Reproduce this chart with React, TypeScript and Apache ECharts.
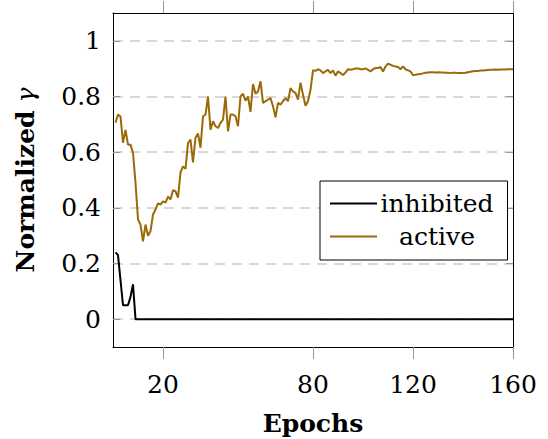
import React, { useEffect, useRef } from "react";
import * as echarts from "echarts";

const FONT = "DejaVu Serif";

const X_TICKS = [20, 80, 120, 160];
const Y_TICKS = [0, 0.2, 0.4, 0.6, 0.8, 1];

const SERIES_NAMES = ["inhibited", "active"];

// inhibited: [epoch, value]
const INHIBITED: [number, number][] = [
  [1, 0.24], [2, 0.23], [3, 0.14], [4, 0.05], [5, 0.05], [6, 0.05],
  [7, 0.08], [8, 0.125], [9, 0], [160, 0],
];

// active: one value per epoch, epochs 1..160
const ACTIVE = [
  0.706, 0.735, 0.728, 0.634, 0.68, 0.627, 0.627, 0.598, 0.49, 0.358,
  0.34, 0.28, 0.34, 0.3, 0.316, 0.376, 0.394, 0.416, 0.412, 0.423,
  0.419, 0.44, 0.43, 0.463, 0.46, 0.437, 0.527, 0.549, 0.54, 0.632,
  0.645, 0.563, 0.652, 0.667, 0.616, 0.729, 0.735, 0.8, 0.681, 0.711,
  0.693, 0.687, 0.705, 0.717, 0.8, 0.675, 0.735, 0.735, 0.729, 0.693,
  0.8, 0.81, 0.785, 0.8, 0.745, 0.845, 0.81, 0.818, 0.855, 0.777,
  0.783, 0.789, 0.794, 0.765, 0.725, 0.777, 0.771, 0.783, 0.794, 0.783,
  0.83, 0.818, 0.813, 0.789, 0.85, 0.806, 0.767, 0.783, 0.824, 0.894,
  0.892, 0.898, 0.894, 0.884, 0.89, 0.896, 0.884, 0.894, 0.875, 0.89,
  0.884, 0.877, 0.886, 0.898, 0.896, 0.898, 0.901, 0.901, 0.898, 0.898,
  0.901, 0.896, 0.89, 0.898, 0.902, 0.902, 0.906, 0.89, 0.908, 0.918,
  0.914, 0.91, 0.908, 0.906, 0.898, 0.908, 0.898, 0.894, 0.89, 0.877,
  0.878, 0.88, 0.881, 0.883, 0.885, 0.886, 0.887, 0.887, 0.886, 0.887,
  0.886, 0.886, 0.885, 0.885, 0.884, 0.885, 0.885, 0.884, 0.884, 0.884,
  0.885, 0.887, 0.889, 0.891, 0.892, 0.892, 0.893, 0.893, 0.894, 0.895,
  0.896, 0.896, 0.897, 0.896, 0.897, 0.897, 0.897, 0.898, 0.898, 0.898,
];

const ACTIVE_COLOR = "#9a6a06";

function fmtY(v: number): string {
  const r = Math.round(v * 10) / 10;
  return String(r);
}

export default function App() {
  const ref = useRef<HTMLDivElement>(null);
  useEffect(() => {
    if (!ref.current) return;
    const chart = echarts.init(ref.current, undefined, { renderer: "svg" });
    const activeData = ACTIVE.map((v, i) => [i + 1, v]);
    const tickLine = { color: "#999", width: 1 };
    chart.setOption({
      animation: false,
      backgroundColor: "#fff",
      grid: { left: 113, right: 35, top: 13, bottom: 92, containLabel: false, outerBoundsMode: "none" },
      legend: {
        orient: "vertical",
        left: 320,
        top: 181,
        data: SERIES_NAMES,
        icon: "rect",
        itemWidth: 47,
        itemHeight: 2,
        itemGap: 8,
        padding: [10, 14, 11, 10],
        borderColor: "#000",
        borderWidth: 1,
        borderRadius: 0,
        backgroundColor: "#fff",
        formatter: "{a|{name}}",
        textStyle: {
          fontFamily: FONT,
          fontSize: 25,
          color: "#000",
          rich: {
            a: { width: 110, align: "center", fontFamily: FONT, fontSize: 25, lineHeight: 28, color: "#000" },
          },
        },
      },
      xAxis: [
        {
          type: "value",
          min: 0,
          max: 160,
          position: "bottom",
          name: "Epochs",
          nameLocation: "middle",
          nameGap: 64,
          nameTextStyle: { fontFamily: FONT, fontSize: 25, fontWeight: "bold", color: "#000" },
          axisLine: { show: true, onZero: false, lineStyle: { color: "#000", width: 1 } },
          axisTick: { show: true, customValues: X_TICKS, length: 12, lineStyle: tickLine },
          axisLabel: { customValues: X_TICKS, fontFamily: FONT, fontSize: 25, color: "#000", margin: 25 },
          splitLine: { show: false },
        },
        {
          type: "value",
          min: 0,
          max: 160,
          position: "top",
          axisLine: { show: true, onZero: false, lineStyle: { color: "#000", width: 1 } },
          axisTick: { show: true, customValues: X_TICKS, length: 12, lineStyle: tickLine },
          axisLabel: { show: false },
          splitLine: { show: false },
        },
      ],
      yAxis: [
        {
          type: "value",
          min: -0.1,
          max: 1.1,
          position: "left",
          name: "{b|Normalized} {g|γ}",
          nameLocation: "middle",
          nameGap: 75,
          nameRotate: 90,
          nameTextStyle: {
            fontFamily: FONT,
            fontSize: 25,
            color: "#000",
            rich: {
              b: { fontFamily: FONT, fontSize: 25, fontWeight: "bold", color: "#000" },
              g: { fontFamily: FONT, fontSize: 25, fontStyle: "italic", color: "#000" },
            },
          },
          axisLine: { show: true, onZero: false, lineStyle: { color: "#000", width: 1 } },
          axisTick: { show: true, inside: true, customValues: Y_TICKS, length: 7, lineStyle: tickLine },
          axisLabel: {
            customValues: Y_TICKS,
            formatter: (v: number) => fmtY(v),
            fontFamily: FONT,
            fontSize: 25,
            color: "#000",
            margin: 12,
          },
          splitLine: { show: true, lineStyle: { color: "#cccccc", width: 1.5, type: [10, 7] } },
        },
        {
          type: "value",
          min: -0.1,
          max: 1.1,
          position: "right",
          axisLine: { show: true, onZero: false, lineStyle: { color: "#000", width: 1 } },
          axisTick: { show: true, inside: true, customValues: Y_TICKS, length: 7, lineStyle: tickLine },
          axisLabel: { show: false },
          splitLine: { show: false },
        },
      ],
      series: [
        {
          name: SERIES_NAMES[0],
          type: "line",
          xAxisIndex: 0,
          yAxisIndex: 0,
          data: INHIBITED,
          symbol: "none",
          color: "#000",
          lineStyle: { color: "#000", width: 2 },
          z: 3,
        },
        {
          name: SERIES_NAMES[1],
          type: "line",
          xAxisIndex: 0,
          yAxisIndex: 0,
          data: activeData,
          symbol: "none",
          color: ACTIVE_COLOR,
          lineStyle: { color: ACTIVE_COLOR, width: 2 },
          z: 3,
        },
      ],
    });
    return () => chart.dispose();
  }, []);
  return (
    <div
      ref={ref}
      style={{ position: "fixed", left: 0, top: 0, width: 548, height: 439, background: "#fff" }}
    />
  );
}
